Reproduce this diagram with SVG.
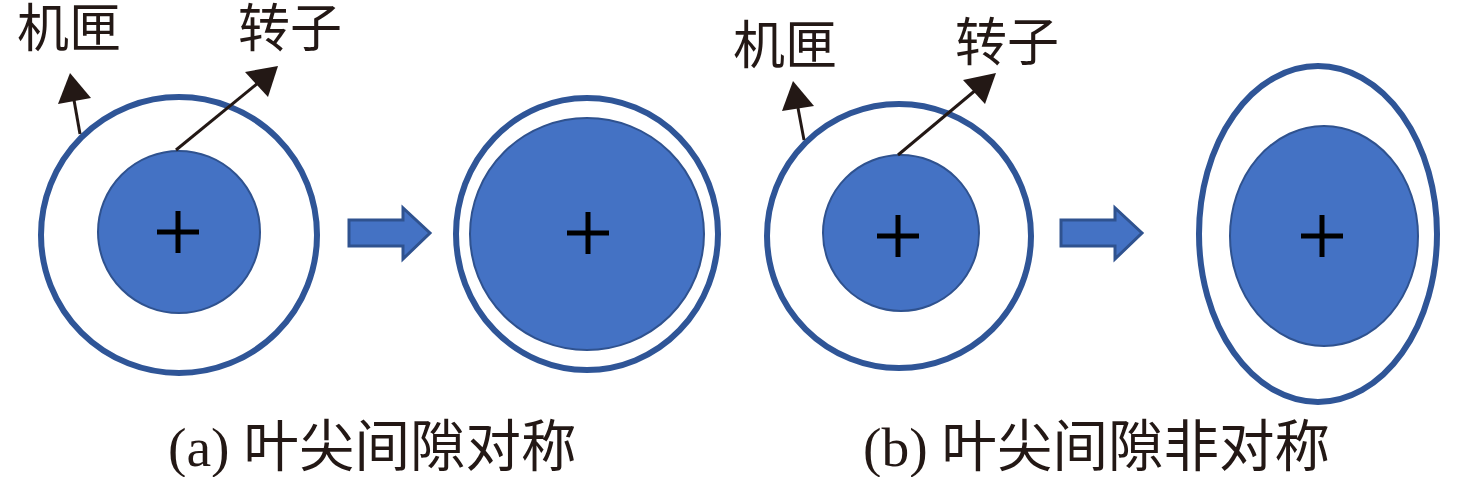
<svg xmlns="http://www.w3.org/2000/svg" width="1476" height="477" viewBox="0 0 1476 477">
<style>
.ring{fill:none;stroke:#2F5597;stroke-width:6}
.rotor{fill:#4472C4;stroke:#2F528F;stroke-width:2}
.plus{stroke:#000;stroke-width:5;fill:none}
.lead{stroke:#231815;stroke-width:3;fill:none}
.head{fill:#231815}
.big{fill:#4472C4;stroke:#2F528F;stroke-width:3;stroke-linejoin:miter}
.t{font-family:"Liberation Serif","Noto Sans CJK SC",serif;fill:#231815}
</style>
<rect width="1476" height="477" fill="#fff"/>
<g id="node-a1">
<circle class="ring" cx="179" cy="235" r="138"/>
<circle class="rotor" cx="179" cy="232" r="81"/>
<path class="plus" d="M157 232H199M178 211V253"/>
</g>
<g id="node-a2">
<ellipse class="ring" cx="587" cy="234" rx="131" ry="136"/>
<ellipse class="rotor" cx="587" cy="234" rx="117" ry="116"/>
<path class="plus" d="M567 233H609M588 212V254"/>
</g>
<g id="node-b1">
<circle class="ring" cx="899" cy="236" r="132"/>
<circle class="rotor" cx="901" cy="233" r="78"/>
<path class="plus" d="M877 236H919M898 215V257"/>
</g>
<g id="node-b2">
<ellipse class="ring" cx="1318" cy="234" rx="119" ry="168"/>
<ellipse class="rotor" cx="1324" cy="236" rx="94" ry="110"/>
<path class="plus" d="M1301 236H1343M1322 215V257"/>
</g>
<g id="connectors">
<path class="lead" d="M80 134L74 100"/>
<polygon class="head" points="70,73 58,104 91,98"/>
<path class="lead" d="M176 150L258 83"/>
<polygon class="head" points="278,66 245,72 268,97"/>
<path class="lead" d="M804 140L798 108"/>
<polygon class="head" points="793,81 782,111 814,106"/>
<path class="lead" d="M898 155L977 89"/>
<polygon class="head" points="996,73 963,80 985,104"/>
<polygon class="big" points="349,220 403,220 403,208 430,233 403,259 403,246 349,246"/>
<polygon class="big" points="1061,220 1115,220 1115,208 1142,233 1115,259 1115,246 1061,246"/>
</g>
<g id="labels">
<text class="t" x="17" y="47" font-size="52">机匣</text>
<text class="t" x="238" y="47" font-size="52">转子</text>
<text class="t" x="733" y="64" font-size="52">机匣</text>
<text class="t" x="955" y="61" font-size="52">转子</text>
<text class="t" x="168" y="466" font-size="55.5">(a) 叶尖间隙对称</text>
<text class="t" x="863" y="466" font-size="55.5">(b) 叶尖间隙非对称</text>
</g>
</svg>
